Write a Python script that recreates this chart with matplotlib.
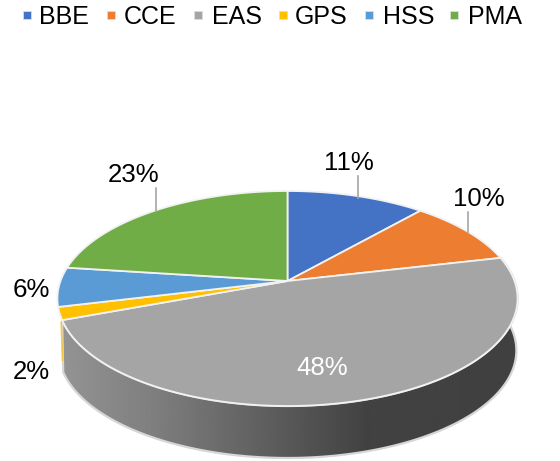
import numpy as np
import matplotlib
matplotlib.use("Agg")
import matplotlib.pyplot as plt
from matplotlib.patches import Polygon, Rectangle

plt.rcParams["font.family"] = ["Liberation Sans", "DejaVu Sans"]

# data
names = ["BBE", "CCE", "EAS", "GPS", "HSS", "PMA"]
shares = [11.4, 9.9, 47.9, 1.9, 5.9, 22.9]
colors = ["#4472C4", "#ED7D31", "#A5A5A5", "#FFC000", "#5B9BD5", "#70AD47"]
labels = ["11%", "10%", "48%", "2%", "6%", "23%"]

# pie geometry in pixels, tilted disc with some perspective
cx, cy = 287.5, 281
rx, ry, k = 227, 104.65, 0.1628
depth = 52


def project(theta):
    # theta is clockwise from 12 o'clock
    w = 1 + k * np.cos(theta)
    return cx + rx * np.sin(theta) / w, cy - ry * np.cos(theta) / w


fig = plt.figure(figsize=(5.6, 4.61), dpi=100)
ax = fig.add_axes([0, 0, 1, 1])
ax.set_xlim(0, 560)
ax.set_ylim(461, 0)
ax.axis("off")

edges = np.cumsum([0] + shares) / sum(shares) * 2 * np.pi

# side wall of the EAS slice, shaded left to right
tw = np.linspace(edges[2], edges[3], 200)
xw, yw = project(tw)
wall_xy = np.concatenate([np.c_[xw, yw], np.c_[xw[::-1] * 0.995 + 1.4, yw[::-1] + depth]])
grad_x = np.linspace(55, 520, 466)
grad_v = np.interp(grad_x, [60, 150, 285, 365, 520], [0.58, 0.50, 0.35, 0.26, 0.25])
img = ax.imshow(grad_v[None, :], cmap="gray", vmin=0, vmax=1, aspect="auto",
                extent=[55, 520, 465, 270], zorder=1)
wall = Polygon(wall_xy, closed=True, facecolor="none", edgecolor="#d6d6d6", lw=1.6, zorder=2)
ax.add_patch(wall)
img.set_clip_path(wall)
ax.set_xlim(0, 560)
ax.set_ylim(461, 0)

# thin sliver of the GPS wall on the left
xg, yg = project(edges[3])
ax.plot([xg - 1, xg + 0.5], [yg + 2, yg + 40], color="#FFC000", lw=1.2, alpha=0.7, zorder=2)

# top faces
for i in range(len(shares)):
    t = np.linspace(edges[i], edges[i + 1], 120)
    x, y = project(t)
    pts = np.r_[[[cx, cy]], np.c_[x, y]]
    ax.add_patch(Polygon(pts, closed=True, facecolor=colors[i], edgecolor="#F2F2F2",
                         lw=1.3, joinstyle="round", zorder=3))

# leader lines
ax.plot([357.5, 357.5], [176, 198], color="#A6A6A6", lw=1.2, zorder=4)
ax.plot([468, 468], [212, 232], color="#A6A6A6", lw=1.2, zorder=4)
ax.plot([156, 156], [188, 211], color="#A6A6A6", lw=1.2, zorder=4)

# data labels
label_x = [349, 479, 322, 31, 31, 134]
label_y = [163, 199, 368, 372, 290, 175]
for i in range(len(labels)):
    col = "white" if names[i] == "EAS" else "black"
    ax.text(label_x[i], label_y[i], labels[i], fontsize=18.6, color=col,
            ha="center", va="center", zorder=5)

# legend across the top
box_x = [27, 111, 198, 283, 369, 454]
text_x = [39, 124, 212, 295, 383, 468]
for i in range(len(names)):
    ax.add_patch(Rectangle((box_x[i] - 4, 11), 8, 8, facecolor=colors[i],
                           edgecolor="#dddddd", lw=0.6, zorder=3))
    ax.text(text_x[i], 24, names[i], fontsize=18, color="black", ha="left", va="baseline")

fig.savefig("out.png", dpi=100, facecolor="white")
